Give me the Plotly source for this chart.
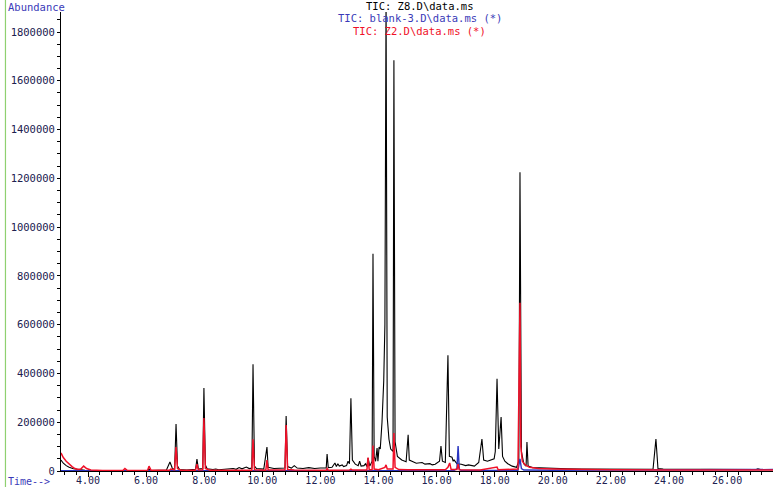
import plotly.graph_objects as go

# ---- data (retention time in min, abundance) ----
z8_time = [3.07, 3.15, 3.25, 3.35, 3.5, 3.7, 3.9, 4.2, 5.0, 5.25, 5.3, 6.05, 6.1, 6.15, 6.7, 6.82, 6.9, 6.98,
           7.03, 7.08, 7.15, 7.4, 7.6, 7.7, 7.75, 7.8, 7.95, 7.99, 8.04, 8.1, 8.3, 8.4, 8.5, 8.8, 9.0, 9.1,
           9.2, 9.3, 9.45, 9.55, 9.64, 9.68, 9.73, 9.8, 9.95, 10.05, 10.16, 10.2, 10.4, 10.6, 10.78, 10.82,
           10.87, 11.0, 11.1, 11.2, 11.4, 11.6, 11.8, 12.0, 12.2, 12.23, 12.27, 12.4, 12.5, 12.55, 12.6,
           12.65, 12.75, 12.8, 12.9, 12.95, 13.0, 13.05, 13.1, 13.2, 13.3, 13.35, 13.4, 13.5, 13.55, 13.6,
           13.64, 13.7, 13.78, 13.81, 13.85, 13.9, 13.95, 13.98, 14.02, 14.06, 14.12, 14.18, 14.22, 14.26,
           14.3, 14.36, 14.42, 14.5, 14.53, 14.57, 14.65, 14.8, 14.95, 15.02, 15.06, 15.15, 15.3, 15.5,
           15.6, 15.77, 15.85, 15.95, 16.1, 16.15, 16.2, 16.3, 16.39, 16.44, 16.53, 16.57, 16.6, 16.7,
           16.85, 17.0, 17.1, 17.3, 17.45, 17.56, 17.62, 17.75, 17.9, 17.98, 18.02, 18.08, 18.14, 18.22,
           18.27, 18.35, 18.45, 18.6, 18.75, 18.83, 18.87, 18.92, 19.0, 19.08, 19.11, 19.15, 19.3, 19.6,
           20.0, 20.5, 21.0, 21.5, 22.0, 22.5, 22.6, 22.7, 23.0, 23.45, 23.55, 23.62, 23.8, 24.5, 25.0,
           26.0, 27.0, 27.06, 27.15, 27.6]
z8_abund = [45000, 32000, 22000, 15000, 9000, 5000, 3000, 2000, 2000, 3000, 2000, 2000, 8000, 2000, 4000,
            37000, 12000, 5000, 193000, 20000, 6000, 4000, 6000, 5000, 49000, 8000, 10000, 340000, 25000,
            9000, 6000, 8000, 5000, 8000, 10000, 7000, 14000, 9000, 16000, 10000, 12000, 438000, 20000,
            10000, 10000, 8000, 98000, 15000, 10000, 12000, 12000, 225000, 18000, 12000, 22000, 12000,
            10000, 14000, 10000, 12000, 12000, 70000, 14000, 15000, 33000, 18000, 30000, 20000, 25000,
            18000, 22000, 40000, 30000, 298000, 45000, 28000, 22000, 40000, 20000, 22000, 30000, 18000,
            53000, 20000, 40000, 891000, 60000, 40000, 94000, 40000, 98000, 90000, 200000, 370000, 600000,
            1950000, 220000, 130000, 90000, 80000, 1684000, 120000, 60000, 45000, 38000, 148000, 45000,
            40000, 32000, 35000, 28000, 30000, 25000, 28000, 40000, 102000, 40000, 35000, 475000, 60000,
            57000, 40000, 45000, 30000, 28000, 22000, 25000, 20000, 35000, 131000, 45000, 40000, 45000,
            50000, 80000, 378000, 90000, 221000, 60000, 40000, 30000, 20000, 15000, 40000, 1225000, 80000,
            30000, 20000, 119000, 20000, 14000, 12000, 10000, 9000, 8000, 8000, 8000, 8000, 10000, 8000,
            7000, 7000, 131000, 10000, 8000, 7000, 6000, 6000, 6000, 9000, 6000, 6000]

blank_time = [3.07, 14.0, 16.6, 16.7, 16.74, 16.78, 16.85, 18.8, 18.87, 18.92, 19.0, 20.0, 24.0, 27.6]
blank_abund = [1000, 1500, 2000, 10000, 102000, 8000, 2000, 2000, 50000, 10000, 4000, 3000, 4000, 6000]

z2_time = [3.07, 3.15, 3.25, 3.35, 3.45, 3.55, 3.65, 3.75, 3.85, 3.95, 4.1, 4.5, 5.2, 5.27, 5.35, 6.05,
           6.1, 6.17, 6.8, 6.85, 6.98, 7.03, 7.08, 7.2, 7.7, 7.75, 7.8, 7.95, 7.99, 8.04, 8.2, 9.64, 9.68,
           9.73, 10.12, 10.16, 10.2, 10.78, 10.82, 10.87, 11.1, 12.2, 12.23, 12.27, 13.0, 13.05, 13.1,
           13.6, 13.64, 13.68, 13.78, 13.81, 13.85, 14.0, 14.22, 14.26, 14.3, 14.5, 14.53, 14.57, 14.7,
           15.0, 16.3, 16.39, 16.45, 16.5, 16.7, 16.74, 16.78, 17.5, 18.08, 18.12, 18.8, 18.87, 18.9,
           18.95, 19.05, 19.2, 19.5, 20.0, 21.0, 22.0, 24.0, 27.6]
z2_abund = [74000, 55000, 40000, 28000, 18000, 10000, 6000, 8000, 20000, 10000, 4000, 2000, 2000, 10000,
            3000, 2000, 20000, 3000, 3000, 8000, 5000, 98000, 10000, 3000, 3000, 28000, 4000, 5000, 217000,
            10000, 3000, 3000, 130000, 5000, 3000, 45000, 4000, 4000, 189000, 6000, 4000, 3000, 10000, 3000,
            4000, 8000, 4000, 4000, 55000, 5000, 6000, 104000, 8000, 5000, 15000, 25000, 8000, 8000, 156000,
            15000, 6000, 5000, 5000, 15000, 33000, 6000, 6000, 28000, 5000, 4000, 16000, 5000, 8000, 690000,
            100000, 40000, 25000, 15000, 10000, 8000, 6000, 5000, 4000, 4000]

x_tick_vals = [4, 6, 8, 10, 12, 14, 16, 18, 20, 22, 24, 26]
x_tick_text = ["4.00", "6.00", "8.00", "10.00", "12.00", "14.00", "16.00", "18.00", "20.00", "22.00", "24.00", "26.00"]
y_tick_vals = [0, 200000, 400000, 600000, 800000, 1000000, 1200000, 1400000, 1600000, 1800000]
y_tick_text = [str(v) for v in y_tick_vals]

FONT = "DejaVu Sans Mono"
BLUE = "#3a3ab8"

fig = go.Figure()
fig.add_trace(go.Scatter(x=z8_time, y=z8_abund, mode="lines", line=dict(color="#000000", width=1.1),
                         name="Z8", hoverinfo="x+y"))
fig.add_trace(go.Scatter(x=blank_time, y=blank_abund, mode="lines", line=dict(color="#2a35c0", width=1.4),
                         name="blank-3", hoverinfo="x+y"))
fig.add_trace(go.Scatter(x=z2_time, y=z2_abund, mode="lines", line=dict(color="#f01028", width=1.5),
                         name="Z2", hoverinfo="x+y"))

annots = [
    dict(text="TIC: Z8.D\\data.ms", x=0.504, y=1.013, color="#000000"),
    dict(text="TIC: blank-3.D\\data.ms (*)", x=0.504, y=0.988, color=BLUE),
    dict(text="TIC: Z2.D\\data.ms (*)", x=0.504, y=0.959, color="#f01028"),
]
for a in annots:
    fig.add_annotation(text=a["text"], x=a["x"], y=a["y"], xref="paper", yref="paper",
                       xanchor="center", yanchor="middle", showarrow=False,
                       font=dict(family=FONT, size=10.5, color=a["color"]))

fig.add_annotation(text="Abundance", x=-0.0775, y=1.011, xref="paper", yref="paper",
                   xanchor="left", yanchor="middle", showarrow=False,
                   font=dict(family=FONT, size=10.5, color=BLUE))
fig.add_annotation(text="Time-->", x=-0.0775, y=-0.022, xref="paper", yref="paper",
                   xanchor="left", yanchor="middle", showarrow=False,
                   font=dict(family=FONT, size=10, color=BLUE))

fig.add_shape(type="line", xref="paper", yref="paper", x0=-0.078, x1=-0.078, y0=-0.04, y1=1.03,
              line=dict(color="#8fd070", width=1.2))

fig.update_layout(
    width=773, height=487,
    margin=dict(l=61, r=0, t=12, b=16, autoexpand=False),
    paper_bgcolor="white", plot_bgcolor="white",
    showlegend=False,
    font=dict(family=FONT, size=10.5, color="#202050"),
    xaxis=dict(range=[3.07, 27.58], tickmode="array", tickvals=x_tick_vals, ticktext=x_tick_text,
               ticks="outside", ticklen=5, tickcolor="#000000", showline=True, linecolor="#000000",
               linewidth=1, showgrid=False, zeroline=False, automargin=False, ticklabelstandoff=-5,
               minor=dict(dtick=0.4, tick0=0, ticks="outside", ticklen=3, tickcolor="#000000"),
               tickfont=dict(family=FONT, size=10, color="#202050")),
    yaxis=dict(range=[0, 1882000], tickmode="array", tickvals=y_tick_vals, ticktext=y_tick_text,
               ticks="outside", ticklen=3, tickcolor="#000000", showline=True, linecolor="#000000",
               linewidth=1, showgrid=False, zeroline=False, automargin=False,
               minor=dict(dtick=50000, tick0=0, ticks="outside", ticklen=3, tickcolor="#000000"),
               tickfont=dict(family=FONT, size=10.5, color="#202050")),
)

fig.write_html("out.html", config={"displayModeBar": False},
               post_script="document.body.style.margin='0px';document.body.style.overflow='hidden';")
